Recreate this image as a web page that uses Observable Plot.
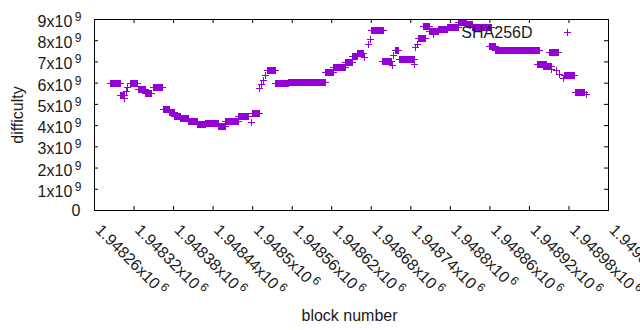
<!DOCTYPE html>
<html><head><meta charset="utf-8">
<script src="https://cdn.jsdelivr.net/npm/d3@7"></script>
<script src="https://cdn.jsdelivr.net/npm/@observablehq/plot@0.6"></script>
<style>
html,body{margin:0;padding:0;background:#fff;}
svg{display:block;}
</style></head><body>
<script>
// Runs of blocks drawn as "+" points (start block, end block, difficulty)
const runStart = [1948285,1948299,1948305,1948308,1948310,1948314,1948327,1948337,1948349,1948364,
  1948374,1948381,1948390,1948403,1948417,1948429,1948448,1948459,1948478,1948498,
  1948500,1948511,1948513,1948516,1948520,1948523,1948535,1948554,1948611,1948623,
  1948641,1948651,1948659,1948670,1948676,1948679,1948680,1948697,1948712,1948714,
  1948717,1948723,1948746,1948747,1948750,1948751,1948759,1948768,1948774,1948782,
  1948796,1948812,1948824,1948834,1948859,1948869,1948933,1948941,1948951,1948953,
  1948961,1948966,1948973,1948972,1948990,1949007];
const runEnd = [1948299,1948305,1948305,1948308,1948310,1948326,1948338,1948347,1948363,1948374,
  1948382,1948390,1948403,1948416,1948429,1948448,1948459,1948478,1948494,1948498,
  1948510,1948511,1948513,1948516,1948520,1948535,1948554,1948611,1948623,1948641,
  1948651,1948659,1948668,1948670,1948676,1948679,1948699,1948710,1948712,1948714,
  1948721,1948746,1948746,1948747,1948750,1948762,1948768,1948782,1948774,1948796,
  1948812,1948824,1948834,1948862,1948869,1948935,1948946,1948954,1948964,1948953,
  1948961,1948966,1948988,1948972,1949004,1949007];
const difficulty = [5.98e9,5.41e9,5.26e9,5.62e9,5.80e9,5.98e9,5.72e9,5.51e9,5.79e9,4.76e9,
  4.64e9,4.43e9,4.33e9,4.21e9,4.05e9,4.10e9,3.94e9,4.19e9,4.43e9,4.16e9,
  4.57e9,5.76e9,5.94e9,6.13e9,6.34e9,6.59e9,5.98e9,6.02e9,6.49e9,6.73e9,
  6.96e9,7.28e9,7.39e9,7.21e9,7.82e9,8.08e9,8.47e9,7.01e9,6.85e9,7.31e9,
  7.52e9,7.12e9,6.86e9,7.66e9,7.82e9,8.12e9,8.67e9,8.45e9,8.27e9,8.52e9,
  8.62e9,8.87e9,8.78e9,8.64e9,7.74e9,7.54e9,6.88e9,6.79e9,7.46e9,6.65e9,
  6.60e9,6.41e9,6.37e9,6.20e9,5.57e9,5.45e9];

const xTickValues = [1948260,1948320,1948380,1948440,1948500,1948560,1948620,1948680,1948740,1948800,1948860,1948920,1948980,1949040];
const xTickLabels = ["1.94826","1.94832","1.94838","1.94844","1.9485","1.94856","1.94862","1.94868","1.94874","1.9488","1.94886","1.94892","1.94898","1.94904"];
const xTickExp = "6";
const yTickValues = [1e9,2e9,3e9,4e9,5e9,6e9,7e9,8e9,9e9];
const yTickLabels = ["1","2","3","4","5","6","7","8","9"];
const yTickExp = "9";
const yZero = [0];

const seriesName = "SHA256D";
const xTitle = "block number";
const yTitle = "difficulty";
const color = "#9400d3";

const runs = runStart.map((s, i) => ({start: s, end: runEnd[i], v: difficulty[i]}));
const xTicks = xTickValues.map((v, i) => ({v, label: xTickLabels[i] + "x10^" + xTickExp}));
const yTicks = yTickValues.map((v, i) => ({v, label: yTickLabels[i] + "x10^" + yTickExp}));

const plusSymbol = {draw(ctx, size) {
  const a = Math.sqrt(size / Math.PI);
  ctx.moveTo(-a, 0); ctx.lineTo(a, 0);
  ctx.moveTo(0, -a); ctx.lineTo(0, a);
}};

const W = 640, H = 330, ML = 94, MR = 32, MT = 19, MB = 120;
const innerW = W - ML - MR, innerH = H - MT - MB, tickLen = 4;
const font = "'Liberation Sans', Arial, sans-serif";

const svg = Plot.plot({
  width: W, height: H,
  marginLeft: ML, marginRight: MR, marginTop: MT, marginBottom: MB,
  x: {domain: [xTickValues[0], xTickValues[xTickValues.length - 1]], axis: null},
  y: {domain: [0, 9e9], axis: null},
  style: {fontFamily: font, fontSize: "16px", background: "white", color: "black"},
  marks: [
    Plot.link(runs.filter(d => d.end > d.start), {x1: "start", x2: "end", y1: "v", y2: "v",
      stroke: color, strokeWidth: 7, strokeLinecap: "butt", shapeRendering: "crispEdges"}),
    Plot.dot(runs, {x: "start", y: "v", symbol: plusSymbol, r: 3.5, fill: "none", stroke: color, strokeWidth: 1, shapeRendering: "crispEdges"}),
    Plot.dot(runs, {x: "end", y: "v", symbol: plusSymbol, r: 3.5, fill: "none", stroke: color, strokeWidth: 1, shapeRendering: "crispEdges"}),
    // inward ticks (bottom, top, left, right)
    Plot.ruleX(xTickValues, {x: d => d, insetTop: innerH - tickLen, stroke: "black"}),
    Plot.ruleX(xTickValues, {x: d => d, insetBottom: innerH - tickLen, stroke: "black"}),
    Plot.ruleY(yTickValues, {y: d => d, insetRight: innerW - tickLen, stroke: "black"}),
    Plot.ruleY(yTickValues, {y: d => d, insetLeft: innerW - tickLen, stroke: "black"}),
    Plot.frame({stroke: "black"}),
    // tick labels
    Plot.text(yTicks, {y: "v", text: "label", frameAnchor: "left", textAnchor: "end", lineAnchor: "bottom",
      dx: -13, dy: 7.5, fontSize: 16, fill: "#1a1a1a"}),
    Plot.text(yZero, {y: d => d, text: d => String(d), frameAnchor: "left", textAnchor: "end", lineAnchor: "bottom",
      dx: -14, dy: 5.5, fontSize: 16, fill: "#1a1a1a"}),
    Plot.text(xTicks, {x: "v", text: "label", frameAnchor: "bottom", textAnchor: "start", lineAnchor: "bottom",
      rotate: 45, dx: 0, dy: 20.5, fontSize: 16, fill: "#1a1a1a"}),
    // axis titles
    Plot.text([xTitle], {text: d => d, frameAnchor: "bottom", textAnchor: "middle", lineAnchor: "bottom",
      dx: -2, dy: 110, fontSize: 16, fill: "#1a1a1a"}),
    Plot.text([yTitle], {text: d => d, frameAnchor: "left", textAnchor: "middle", lineAnchor: "bottom",
      rotate: -90, dx: -72, dy: 0, fontSize: 16, fill: "#1a1a1a"}),
    // key
    Plot.text([seriesName], {text: d => d, frameAnchor: "top-right", textAnchor: "end", lineAnchor: "bottom",
      dx: -76, dy: 18.5, fontSize: 16, fill: "#1a1a1a"}),
    Plot.dot([seriesName], {frameAnchor: "top-right", dx: -41, dy: 12.5, symbol: plusSymbol, r: 3.5,
      fill: "none", stroke: color, strokeWidth: 1, shapeRendering: "crispEdges"})
  ]
});

// superscript exponents
const ns = "http://www.w3.org/2000/svg";
svg.querySelectorAll("text").forEach(t => {
  const s = t.textContent;
  const k = s.indexOf("^");
  if (k < 0) return;
  t.textContent = "";
  const a = document.createElementNS(ns, "tspan");
  a.textContent = s.slice(0, k);
  const b = document.createElementNS(ns, "tspan");
  b.textContent = s.slice(k + 1);
  b.setAttribute("dx", "2.5");
  b.setAttribute("dy", "-6");
  b.setAttribute("font-size", "12");
  t.append(a, b);
});
document.body.appendChild(svg);
</script>
</body></html>
